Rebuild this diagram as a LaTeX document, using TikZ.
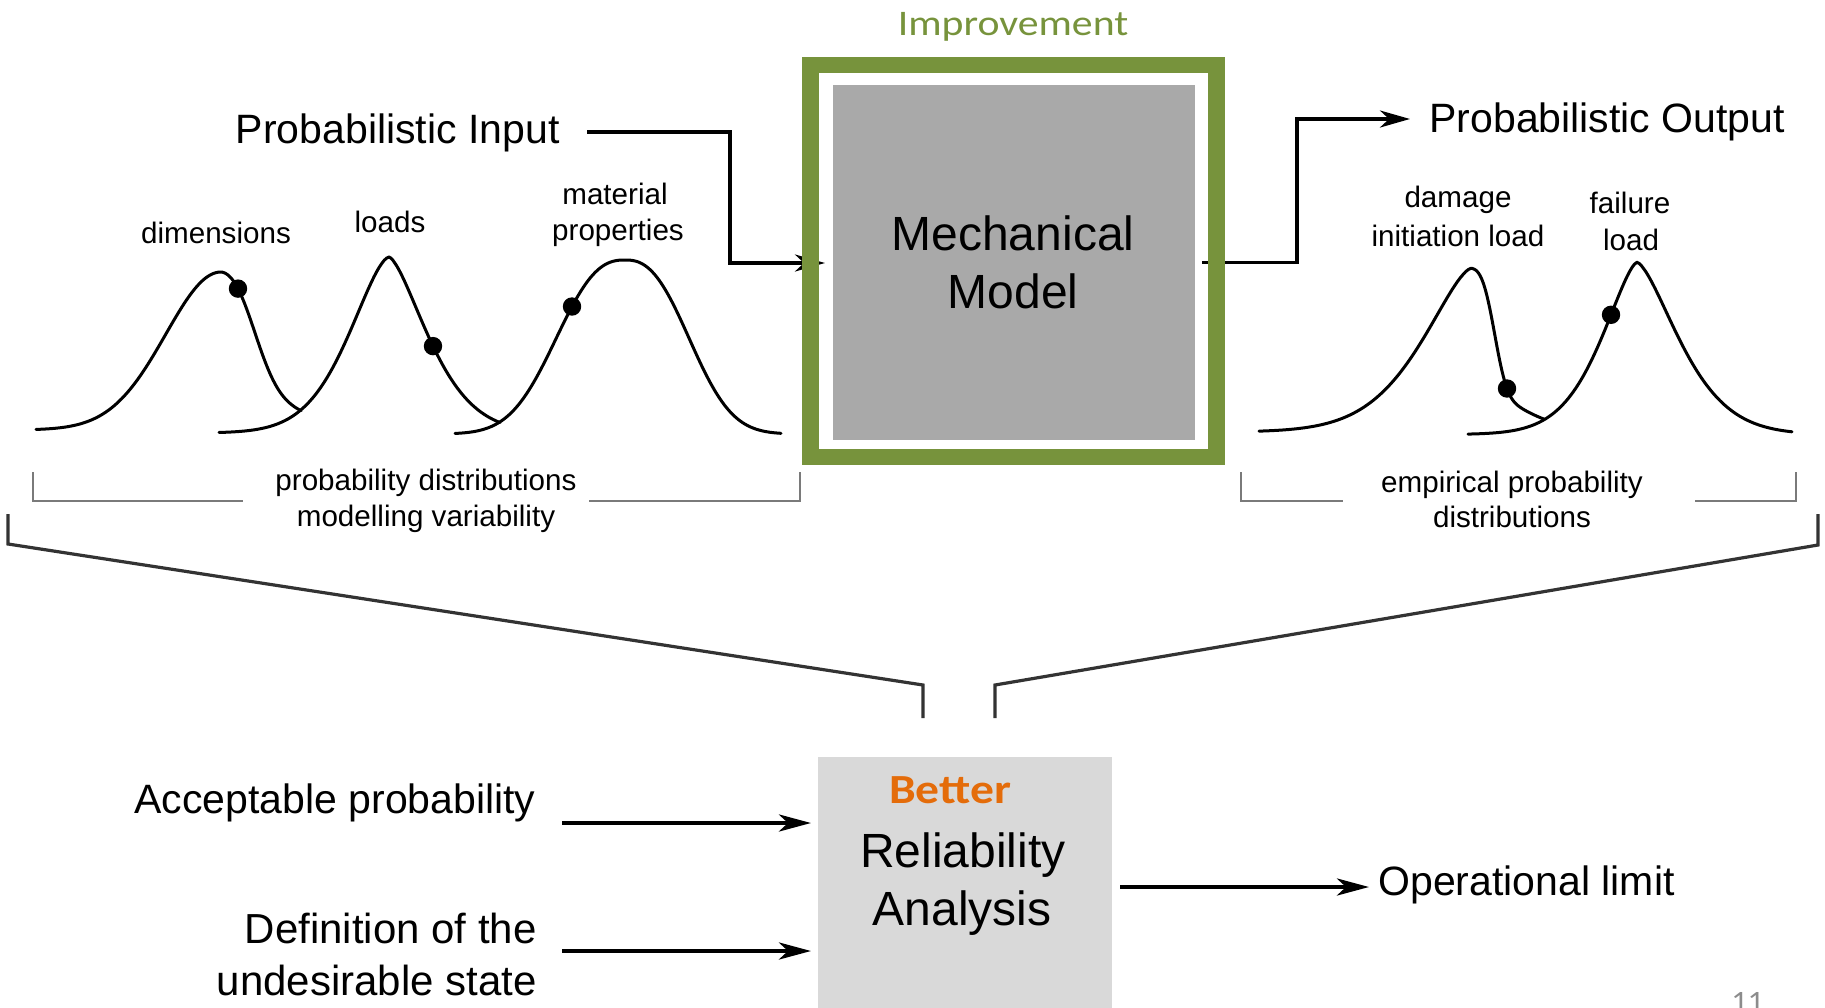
\documentclass[tikz,border=0pt]{standalone}
\usepackage{fontspec}
\setmainfont{Liberation Sans}
\newfontfamily\calibri{Carlito}
\usepackage{graphicx}
\usetikzlibrary{arrows.meta}

\definecolor{olive}{HTML}{77933C}
\definecolor{modelgray}{HTML}{A9A9A9}
\definecolor{relgray}{HTML}{D9D9D9}
\definecolor{accent}{HTML}{E46C0A}
\definecolor{bracketgray}{HTML}{7A7A7A}
\definecolor{funnelgray}{HTML}{333333}
\definecolor{pagegray}{HTML}{8C8C8C}

\begin{document}
\begin{tikzpicture}[x=0.5pt,y=-0.5pt,
  declare function={gg(\d,\w,\p)=exp(-0.693147*min(((abs(\d)+0.01)/\w)^\p,20));},
  lbl/.style={inner sep=0pt, font=\fontsize{20.5}{24}\selectfont},
  lblw/.style={inner sep=0pt, font=\fontsize{21}{25}\selectfont},
  small/.style={inner sep=0pt, font=\fontsize{14.8}{18}\selectfont},
  big/.style={inner sep=0pt, font=\fontsize{24}{28}\selectfont},
  conn/.style={line width=1.65pt, -{Stealth[length=15pt,width=8.5pt,inset=4.5pt]}},
  connB/.style={line width=2.2pt, -{Stealth[length=16pt,width=8.5pt,inset=4.5pt]}},
  curve/.style={line width=1.5pt, line join=round, line cap=round},
  bracket/.style={bracketgray, line width=1pt},
  funnel/.style={funnelgray, line width=1.6pt},
  dot/.style={fill=black}
]
\useasboundingbox (0,0) rectangle (1825,1007);

% ---------- mechanical model ----------
\node[fill=modelgray, minimum width=181pt, minimum height=177.5pt, inner sep=0pt, outer sep=0pt] (mech) at (1014,262.5) {};
\node[big, anchor=base] (mechA) at (1013,250) {Mechanical};
\node[big, anchor=base] (mechB) at (1013,308) {Model};

% ---------- input / output connectors ----------
\node[lbl, anchor=base east] (pin) at (560,143) {Probabilistic Input};
\node[lbl, anchor=base west] (pout) at (1429,132) {Probabilistic Output};
\coordinate (inStart) at (587,132);
\coordinate (inBend) at (730,263);
\coordinate (outBend) at (1297,119);
\coordinate (outTip) at (1410,119);
\draw[conn] (inStart) -| (inBend) -- ([xshift=-4pt]mech.west |- inBend);
\draw[conn] ([xshift=3.5pt]mech.east) -| (outBend) -- (outTip);

% ---------- improvement frame ----------
\node[draw=olive, line width=8.25pt, minimum width=203.2pt, minimum height=195.9pt, inner sep=0pt, outer sep=0pt] (frame) at (1013.5,261) {};
\node[anchor=base, inner sep=0pt, text=olive, font=\calibri\fontsize{18}{22}\selectfont] (impr) at (1013,35) {\scalebox{1.16}[1]{Improvement}};

% ---------- input distributions (left half / right half of each bell) ----------
% dimensions
\draw[curve] plot[domain=36:221, samples=70] (\x, {430-158*gg(\x-221,65,2)})
  -- plot[domain=221:301, samples=50] (\x, {430-158*(0.6*gg(\x-221,36,2.5)+0.4*gg(\x-221,55,1.5))});
% loads
\draw[curve] plot[domain=219:389, samples=70] (\x, {433-176*gg(\x-389,45,1.6)})
  -- plot[domain=389:500, samples=60] (\x, {433-176*gg(\x-389,43.5,1.5)});
% material properties
\draw[curve] plot[domain=455:625, samples=70] (\x, {434-174*gg(\x-625,73,2.5)})
  -- plot[domain=625:781, samples=70] (\x, {434-174*gg(\x-625,68,2.5)});
\fill[dot] (238,288.6) circle[radius=4.6pt];
\fill[dot] (433,346.1) circle[radius=4.6pt];
\fill[dot] (572,306.5) circle[radius=4.6pt];

\node[small, anchor=base] (dim) at (216,243) {dimensions};
\node[small, anchor=base] (loads) at (390,232) {loads};
\node[small, anchor=base] (matA) at (615,204) {material};
\node[small, anchor=base] (matB) at (618,240) {properties};

% ---------- output distributions ----------
% damage initiation load
\draw[curve] plot[domain=1259:1471, samples=80] (\x, {432-163.7*gg(\x-1471,55,1.5)})
  -- plot[domain=1471:1544, samples=60] (\x, {432-163.7*(0.67*gg(\x-1471,24,3)+0.33*gg(\x-1471,45,1.5))});
% failure load
\draw[curve] plot[domain=1468:1637, samples=70] (\x, {434.5-172.2*gg(\x-1637,40,1.5)})
  -- plot[domain=1637:1792, samples=70] (\x, {434.5-172.2*gg(\x-1637,47,1.5)});
\fill[dot] (1507,388.5) circle[radius=4.6pt];
\fill[dot] (1611,314.8) circle[radius=4.6pt];

\node[small, anchor=base] (dmgA) at (1458,207) {damage};
\node[small, anchor=base] (dmgB) at (1458,246) {initiation load};
\node[small, anchor=base] (failA) at (1630,213) {failure};
\node[small, anchor=base] (failB) at (1631,250) {load};

% ---------- brackets ----------
\node[small, anchor=base] (pdA) at (426,490) {probability distributions};
\node[small, anchor=base] (pdB) at (426,526) {modelling variability};
\draw[bracket] (32.5,472) -- (32.5,501) -- (243,501);
\draw[bracket] (589,501) -- (800,501) -- (800,472);

\node[small, anchor=base] (epA) at (1512,492) {empirical probability};
\node[small, anchor=base] (epB) at (1512,527) {distributions};
\draw[bracket] (1240.5,472) -- (1240.5,501) -- (1343,501);
\draw[bracket] (1695,501) -- (1796,501) -- (1796,472);

% ---------- funnel ----------
\draw[funnel] (8,514) -- (8,544) -- (923,685) -- (923,718);
\draw[funnel] (1818,514) -- (1818,545) -- (995,685) -- (995,718);

% ---------- reliability analysis ----------
\node[fill=relgray, minimum width=147pt, minimum height=128pt, inner sep=0pt, outer sep=0pt] (rel) at (965,885) {};
\node[anchor=base, inner sep=0pt, text=accent, font=\calibri\bfseries\fontsize{20.7}{24}\selectfont] (better) at (950,803) {\scalebox{1.15}[1]{Better}};
\node[big, anchor=base] (relA) at (963,867) {Reliability};
\node[big, anchor=base] (relB) at (962,925) {Analysis};

\node[lbl, anchor=base east] (acc) at (536,813) {Acceptable probability};
\node[lblw, anchor=base east] (defA) at (537,943) {Definition of the};
\node[lblw, anchor=base east] (defB) at (537,995) {undesirable state};
\node[lbl, anchor=base west] (oplim) at (1378,895) {Operational limit};

\coordinate (accStart) at (562,823);
\coordinate (defStart) at (562,951);
\draw[connB] (accStart) -- ([xshift=-3.5pt]rel.west |- accStart);
\draw[connB] (defStart) -- ([xshift=-3.5pt]rel.west |- defStart);
\coordinate (opStart) at (1120,887);
\coordinate (opTip) at (1369,887);
\draw[connB] (opStart) -- (opTip);

% ---------- page number ----------
\node[anchor=north west, inner sep=0pt, text=pagegray, font=\calibri\fontsize{14}{16}\selectfont] (page) at (1731,992) {\scalebox{1.15}[1]{11}};
\end{tikzpicture}
\end{document}
